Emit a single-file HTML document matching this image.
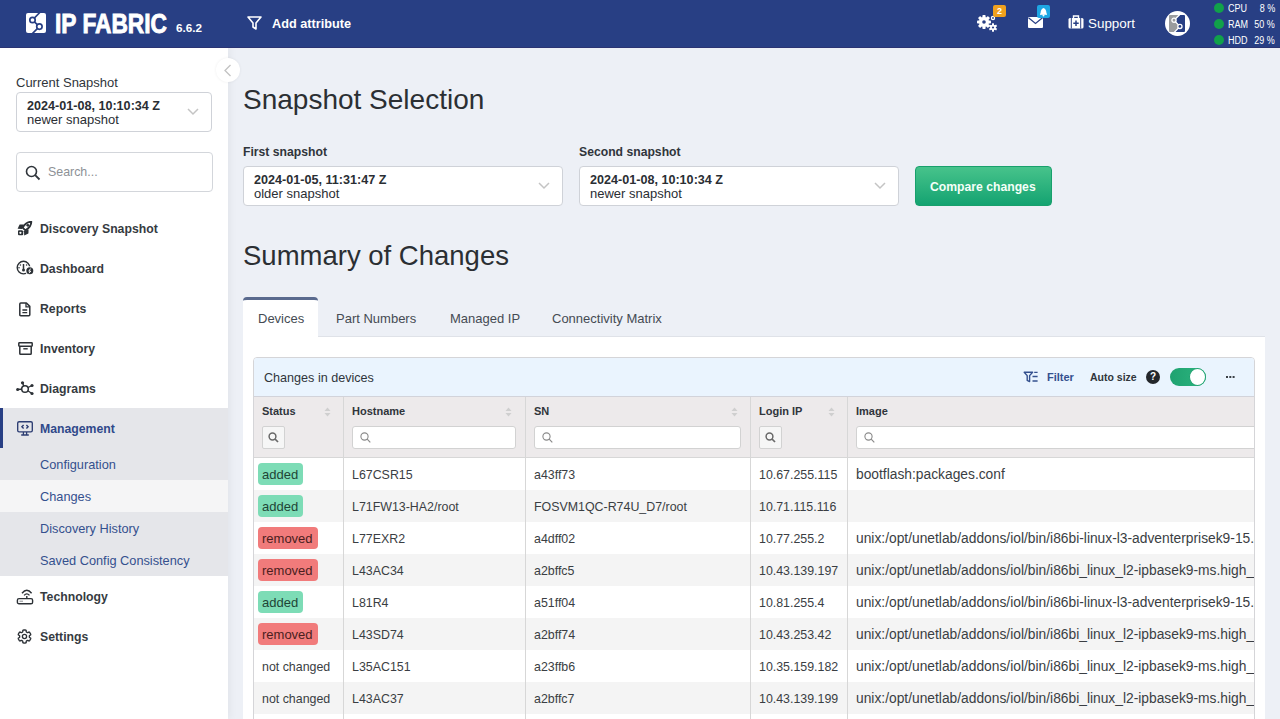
<!DOCTYPE html>
<html><head><meta charset="utf-8">
<style>
*{box-sizing:border-box;margin:0;padding:0}
html,body{width:1280px;height:719px;overflow:hidden}
body{font-family:"Liberation Sans",sans-serif;background:#edf0f6;color:#2f3337;position:relative}
.abs{position:absolute}
svg{display:block}
.nw{white-space:nowrap}
#hdr{left:0;top:0;width:1280px;height:48px;background:#283f84;border-bottom:1px solid #2b3473;z-index:5}
#side{left:0;top:47px;width:228px;height:672px;background:#fff;box-shadow:3px 0 7px rgba(0,0,0,0.045)}
.navi{position:absolute;left:0;width:228px;height:40px}
.navi .t{position:absolute;left:40px;top:13.5px;font-size:12.25px;font-weight:bold;color:#363b41;white-space:nowrap}
.navi svg{position:absolute;left:16px;top:12px}
.sub{position:absolute;left:0;width:228px;height:32px;background:#e5e6ea}
.sub .t{position:absolute;left:40px;top:9px;font-size:12.75px;color:#34508e;white-space:nowrap}
.sel{position:absolute;background:#fff;border:1px solid #cfd2d8;border-radius:4px}
.sel .d{position:absolute;left:10px;top:6px;font-size:12.6px;font-weight:bold;color:#2a2e33;white-space:nowrap}
.sel .n{position:absolute;left:10px;top:19px;font-size:13px;color:#2a2e33;white-space:nowrap}
.sel svg{position:absolute;right:12px;top:15px}
.lbl{position:absolute;font-size:12.2px;font-weight:bold;color:#30353b;white-space:nowrap}
.h1{position:absolute;font-size:28px;color:#2b2f33;white-space:nowrap}
.tab{position:absolute;top:297px;height:40px;font-size:13px;color:#454b53;white-space:nowrap}
.col{position:absolute;top:0;height:100%;border-right:1px solid #d7d7d7}
.th{position:absolute;top:8px;font-size:11px;font-weight:bold;color:#30353b}
.sb{position:absolute;top:29px;width:23px;height:23px;background:#f6f6f6;border:1px solid #d2d2d2;border-radius:2px}
.inp{position:absolute;top:29px;height:23px;background:#fff;border:1px solid #d2d2d2;border-radius:3px}
.row{position:absolute;left:0;width:1001px;height:32px}
.row.g{background:#f4f4f4}
.cell{position:absolute;top:10px;font-size:12.4px;color:#3a3e43;white-space:nowrap}
.bdg{position:absolute;left:4px;top:5px;height:22px;border-radius:4px;font-size:13px;padding:4px 0 0 4px;white-space:nowrap}
.add{background:#7ddcb6;color:#1f4536;width:45px}
.rem{background:#f17b7b;color:#4a1e1e;width:60px}
</style></head><body>

<!-- HEADER -->
<div id="hdr" class="abs">
  <svg class="abs" style="left:26px;top:13px" width="20" height="20" viewBox="0 0 20 20">
    <rect x="0" y="0" width="20" height="20" rx="2" fill="#fff"/>
    <path d="M13.8 -0.5 L6.5 7 L13.4 13.6 L6.4 20.5" fill="none" stroke="#283f84" stroke-width="1.7"/>
    <circle cx="6.5" cy="7" r="2.7" fill="#fff" stroke="#283f84" stroke-width="1.7"/>
    <circle cx="13.4" cy="13.6" r="2.7" fill="#fff" stroke="#283f84" stroke-width="1.7"/>
  </svg>
  <div class="abs nw" style="left:55px;top:8px;font-size:27.4px;font-weight:bold;color:#fff;transform-origin:0 0;transform:scaleX(0.83);-webkit-text-stroke:0.9px #fff;letter-spacing:0px">IP FABRIC</div>
  <div class="abs nw" style="left:176px;top:21px;font-size:11.7px;font-weight:bold;color:#fff">6.6.2</div>
  <svg class="abs" style="left:247px;top:16px" width="15" height="14" viewBox="0 0 15 14"><path d="M1 1 H14 L9 7 V13 L6 11 V7 Z" fill="none" stroke="#fff" stroke-width="1.6" stroke-linejoin="round"/></svg>
  <div class="abs nw" style="left:272px;top:16.5px;font-size:12.7px;font-weight:bold;color:#fff">Add attribute</div>
  <!-- gears -->
  <svg class="abs" style="left:977px;top:14px" width="21" height="18" viewBox="0 0 21 18">
    <g fill="#fff">
      <circle cx="7" cy="8" r="5"/>
      <g transform="translate(7 8)">
        <rect x="-1.6" y="-7" width="3.2" height="14" rx="0.8"/>
        <rect x="-1.6" y="-7" width="3.2" height="14" rx="0.8" transform="rotate(45)"/>
        <rect x="-1.6" y="-7" width="3.2" height="14" rx="0.8" transform="rotate(90)"/>
        <rect x="-1.6" y="-7" width="3.2" height="14" rx="0.8" transform="rotate(135)"/>
      </g>
      <circle cx="16" cy="13.5" r="2.8"/>
      <g transform="translate(16 13.5)">
        <rect x="-1" y="-4.2" width="2" height="8.4"/>
        <rect x="-1" y="-4.2" width="2" height="8.4" transform="rotate(60)"/>
        <rect x="-1" y="-4.2" width="2" height="8.4" transform="rotate(120)"/>
      </g>
      <circle cx="16" cy="4" r="2.2"/>
    </g>
    <circle cx="7" cy="8" r="1.8" fill="#283f84"/>
    <circle cx="16" cy="13.5" r="1.1" fill="#283f84"/>
    <circle cx="16" cy="4" r="0.9" fill="#283f84"/>
  </svg>
  <div class="abs" style="left:993px;top:5px;width:13px;height:12px;background:#f0a11e;border-radius:2px;color:#fff;font-size:9px;font-weight:bold;text-align:center;line-height:12px">2</div>
  <!-- mail -->
  <svg class="abs" style="left:1028px;top:17px" width="15" height="11" viewBox="0 0 15 11"><rect x="0" y="0" width="15" height="11" rx="1" fill="#fff"/><path d="M0.5 0.8 L7.5 6.5 L14.5 0.8" fill="none" stroke="#283f84" stroke-width="1.2"/></svg>
  <div class="abs" style="left:1037px;top:5px;width:13px;height:13px;background:#1ea7e4;border-radius:2px">
    <svg width="13" height="13" viewBox="0 0 13 13"><path d="M3.5 9 Q3.5 4 6.5 3 Q9.5 4 9.5 9 Z" fill="#fff"/><rect x="3" y="8.6" width="7" height="1.2" fill="#fff"/><circle cx="6.5" cy="10.6" r="1" fill="#fff"/></svg>
  </div>
  <!-- support -->
  <svg class="abs" style="left:1068px;top:15px" width="16" height="14" viewBox="0 0 16 14"><path d="M5.5 3 V1 H10.5 V3" fill="none" stroke="#fff" stroke-width="1.4"/><rect x="0.5" y="3" width="15" height="10.5" rx="1.5" fill="#fff"/><rect x="2.8" y="3" width="1" height="10.5" fill="#283f84"/><rect x="12.2" y="3" width="1" height="10.5" fill="#283f84"/><path d="M8 5.5 V11 M5.3 8.2 H10.7" stroke="#283f84" stroke-width="1.5"/></svg>
  <div class="abs nw" style="left:1088px;top:16px;font-size:13.4px;color:#fff">Support</div>
  <!-- avatar -->
  <div class="abs" style="left:1165px;top:11px;width:25px;height:25px;border-radius:50%;background:#fff"></div>
  <svg class="abs" style="left:1169px;top:15px" width="16" height="17" viewBox="0 0 16 17">
    <path d="M1 0 H10.8 L5 5.3 L10.9 11.4 L5.2 17 H1 Q0 17 0 16 V1 Q0 0 1 0 Z" fill="#9a9c9e"/>
    <path d="M10.8 0 H15 Q16 0 16 1 V16 Q16 17 15 17 H5.2 L10.9 11.4 L5 5.3 Z" fill="#283f84"/>
    <path d="M10.8 -0.5 L5 5.3 L10.9 11.4 L5.2 17.5" fill="none" stroke="#fff" stroke-width="1.3"/>
    <circle cx="5" cy="5.3" r="2.1" fill="#9a9c9e" stroke="#fff" stroke-width="1.3"/>
    <circle cx="10.9" cy="11.4" r="2.1" fill="#283f84" stroke="#fff" stroke-width="1.3"/>
  </svg>
  <!-- status -->
  <div class="abs" style="left:1214px;top:3px;width:10px;height:10px;border-radius:50%;background:#11a14a"></div>
  <div class="abs" style="left:1214px;top:19px;width:10px;height:10px;border-radius:50%;background:#11a14a"></div>
  <div class="abs" style="left:1214px;top:35px;width:10px;height:10px;border-radius:50%;background:#11a14a"></div>
  <div class="abs nw" style="left:1228px;top:3px;font-size:10px;color:#fff;line-height:12px;transform:scaleX(0.9);transform-origin:0 0">CPU</div>
  <div class="abs nw" style="left:1228px;top:19px;font-size:10px;color:#fff;line-height:12px;transform:scaleX(0.9);transform-origin:0 0">RAM</div>
  <div class="abs nw" style="left:1228px;top:35px;font-size:10px;color:#fff;line-height:12px;transform:scaleX(0.9);transform-origin:0 0">HDD</div>
  <div class="abs nw" style="right:5px;top:3px;font-size:10px;color:#fff;line-height:12px;text-align:right;transform:scaleX(0.9);transform-origin:100% 0">8 %</div>
  <div class="abs nw" style="right:5px;top:19px;font-size:10px;color:#fff;line-height:12px;text-align:right;transform:scaleX(0.9);transform-origin:100% 0">50 %</div>
  <div class="abs nw" style="right:5px;top:35px;font-size:10px;color:#fff;line-height:12px;text-align:right;transform:scaleX(0.9);transform-origin:100% 0">29 %</div>
</div>


<!-- SIDEBAR -->
<div id="side" class="abs">
  <div class="abs nw" style="left:16px;top:28px;font-size:13px;color:#30353b">Current Snapshot</div>
  <div class="sel" style="left:16px;top:45px;width:196px;height:40px">
    <div class="d">2024-01-08, 10:10:34 Z</div>
    <div class="n">newer snapshot</div>
    <svg width="12" height="8" viewBox="0 0 12 8"><path d="M1 1 L6 6 L11 1" fill="none" stroke="#c4c4c4" stroke-width="1.5"/></svg>
  </div>
  <div class="sel" style="left:16px;top:105px;width:197px;height:40px;border-color:#d3d6db">
    <svg style="left:8px;top:12px;right:auto" width="16" height="16" viewBox="0 0 16 16"><circle cx="6.5" cy="6.5" r="5" fill="none" stroke="#30353b" stroke-width="1.6"/><path d="M10.2 10.2 L14.5 14.5" stroke="#30353b" stroke-width="1.8"/></svg>
    <div class="abs nw" style="left:31px;top:12px;font-size:12.4px;color:#8d9196">Search...</div>
  </div>
  <!-- nav items: side top=47 -->
  <div class="navi" style="top:161px"><svg style="left:17px;top:13px" width="16" height="15" viewBox="0 0 16 15"><path d="M14.3 0.8 C10.5 0.8 7.6 3.2 5.6 6.6 L8.4 9.4 C11.8 7.4 14.3 4.6 14.3 0.8 Z" fill="#fff" stroke="#2c3136" stroke-width="1.9" stroke-linejoin="round"/><circle cx="10.8" cy="4.3" r="1.4" fill="#2c3136"/><path d="M6.6 3.4 L2.6 3.6 L0.6 7.8 L5 8 Z" fill="#2c3136"/><path d="M11.6 8.4 L11.4 12.4 L7.2 14.4 L7 10 Z" fill="#2c3136"/><path d="M1.6 9.2 H5.2 L6.2 10.2 V13.2 Q6.2 14.2 5.2 14.2 H2 Q1 14.2 1 13.2 V10 Z" fill="#2c3136"/><circle cx="3.4" cy="11.8" r="1.1" fill="#fff"/></svg><span class="t">Discovery Snapshot</span></div>
  <div class="navi" style="top:201px"><svg width="18" height="16" viewBox="0 0 18 16"><circle cx="7.5" cy="7.6" r="6.3" fill="none" stroke="#2c3136" stroke-width="1.4"/><path d="M7.5 4 V9" stroke="#2c3136" stroke-width="1.5"/><circle cx="7.5" cy="10" r="1.5" fill="#2c3136"/><circle cx="4.4" cy="5" r="0.8" fill="#2c3136"/><circle cx="10.6" cy="5" r="0.8" fill="#2c3136"/><circle cx="3" cy="7.8" r="0.8" fill="#2c3136"/><circle cx="13.8" cy="10.8" r="4.6" fill="#fff"/><circle cx="13.8" cy="10.8" r="3.5" fill="#2c3136"/><path d="M14.6 8.6 L12.8 11.2 H14.8 L13 13.2" stroke="#fff" stroke-width="1" fill="none"/></svg><span class="t">Dashboard</span></div>
  <div class="navi" style="top:241px"><svg style="left:19px;top:14px" width="12" height="15" viewBox="0 0 12 15"><path d="M1.8 1 H7.4 L10.8 4.4 V12.8 Q10.8 13.8 9.8 13.8 H1.8 Q0.8 13.8 0.8 12.8 V2 Q0.8 1 1.8 1 Z" fill="none" stroke="#2c3136" stroke-width="1.5" stroke-linejoin="round"/><path d="M7 1 V4.8 H10.8" fill="none" stroke="#2c3136" stroke-width="1.3"/><path d="M3.4 8 H8.2 M3.4 10.6 H8.2" stroke="#2c3136" stroke-width="1.4"/></svg><span class="t">Reports</span></div>
  <div class="navi" style="top:281px"><svg style="left:17.5px;top:14px" width="15" height="13" viewBox="0 0 15 13"><rect x="0.8" y="0.8" width="13.4" height="3.4" rx="0.6" fill="none" stroke="#2c3136" stroke-width="1.5"/><path d="M1.8 4.2 V11.4 Q1.8 12.2 2.6 12.2 H12.4 Q13.2 12.2 13.2 11.4 V4.2" fill="none" stroke="#2c3136" stroke-width="1.5"/><path d="M5.3 6.8 H9.7" stroke="#2c3136" stroke-width="1.4"/></svg><span class="t">Inventory</span></div>
  <div class="navi" style="top:321px"><svg style="left:16px;top:13px" width="18" height="15" viewBox="0 0 18 15"><path d="M9 8 L6.5 1.8 M9 8 L16 4.5 M9 8 L16 12.5 M9 8 L1 8.5" stroke="#2c3136" stroke-width="1.3"/><circle cx="9" cy="8" r="3.3" fill="#fff" stroke="#2c3136" stroke-width="1.5"/><circle cx="6.5" cy="1.8" r="1.6" fill="#2c3136"/><circle cx="16" cy="4.5" r="1.6" fill="#2c3136"/><circle cx="16" cy="12.5" r="1.6" fill="#2c3136"/><circle cx="1.6" cy="8.5" r="1.5" fill="#2c3136"/></svg><span class="t">Diagrams</span></div>
  <div class="navi" style="top:361px;background:#e5e6ea"><div class="abs" style="left:0;top:0;width:3px;height:40px;background:#283f84"></div><svg style="left:17px;top:13px" width="16" height="15" viewBox="0 0 16 15"><rect x="0.7" y="0.7" width="14.6" height="10.2" rx="1.4" fill="none" stroke="#2c3d72" stroke-width="1.35"/><path d="M6.4 10.9 V13.6 M9.6 10.9 V13.6 M4.2 14 H11.8" fill="none" stroke="#2c3d72" stroke-width="1.3"/><path d="M6.6 4 L4.9 5.8 L6.6 7.6 M9.4 4 L11.1 5.8 L9.4 7.6" fill="none" stroke="#2c3d72" stroke-width="1.4"/></svg><span class="t" style="color:#30498a">Management</span></div>
  <div class="sub" style="top:401px"><span class="t">Configuration</span></div>
  <div class="sub" style="top:433px;background:#f5f5f6"><span class="t">Changes</span></div>
  <div class="sub" style="top:465px"><span class="t">Discovery History</span></div>
  <div class="sub" style="top:497px"><span class="t">Saved Config Consistency</span></div>
  <div class="navi" style="top:529px"><svg style="left:16px;top:13px" width="18" height="16" viewBox="0 0 18 16"><path d="M6 4.2 Q10.8 -1.6 15.6 4.2 M8.1 6.4 Q10.8 3.4 13.5 6.4" fill="none" stroke="#2c3136" stroke-width="1.4"/><path d="M10.8 7 V9.5" stroke="#2c3136" stroke-width="1.4"/><rect x="1.4" y="9.6" width="15.2" height="5.2" rx="1.6" fill="none" stroke="#2c3136" stroke-width="1.4"/><path d="M3.5 12.2 H7" stroke="#8a8d91" stroke-width="1"/></svg><span class="t">Technology</span></div>
  <div class="navi" style="top:569px"><svg style="left:17px;top:13px" width="15" height="15" viewBox="0 0 15 15"><path d="M7.50 0.95 L7.73 0.95 L7.96 0.97 L8.18 0.99 L8.41 1.01 L8.64 1.05 L8.86 1.11 L9.06 1.24 L9.19 1.59 L9.20 2.27 L9.23 2.75 L9.34 2.95 L9.48 3.05 L9.63 3.13 L9.78 3.21 L9.93 3.30 L10.07 3.38 L10.22 3.47 L10.36 3.56 L10.52 3.63 L10.75 3.63 L11.18 3.41 L11.77 3.08 L12.14 3.02 L12.35 3.13 L12.51 3.29 L12.66 3.47 L12.80 3.65 L12.93 3.84 L13.06 4.03 L13.17 4.22 L13.28 4.42 L13.39 4.63 L13.48 4.84 L13.57 5.05 L13.65 5.26 L13.71 5.48 L13.71 5.72 L13.46 6.01 L12.88 6.36 L12.48 6.62 L12.36 6.82 L12.34 6.99 L12.35 7.16 L12.35 7.33 L12.35 7.50 L12.35 7.67 L12.35 7.84 L12.34 8.01 L12.36 8.18 L12.48 8.38 L12.88 8.64 L13.46 8.99 L13.71 9.28 L13.71 9.52 L13.65 9.74 L13.57 9.95 L13.48 10.16 L13.39 10.37 L13.28 10.58 L13.17 10.78 L13.06 10.97 L12.93 11.16 L12.80 11.35 L12.66 11.53 L12.51 11.71 L12.35 11.87 L12.14 11.98 L11.77 11.92 L11.18 11.59 L10.75 11.37 L10.52 11.37 L10.36 11.44 L10.22 11.53 L10.07 11.62 L9.93 11.70 L9.78 11.79 L9.63 11.87 L9.48 11.95 L9.34 12.05 L9.23 12.25 L9.20 12.73 L9.19 13.41 L9.06 13.76 L8.86 13.89 L8.64 13.95 L8.41 13.99 L8.18 14.01 L7.96 14.03 L7.73 14.05 L7.50 14.05 L7.27 14.05 L7.04 14.03 L6.82 14.01 L6.59 13.99 L6.36 13.95 L6.14 13.89 L5.94 13.76 L5.81 13.41 L5.80 12.73 L5.77 12.25 L5.66 12.05 L5.52 11.95 L5.37 11.87 L5.22 11.79 L5.07 11.70 L4.93 11.62 L4.78 11.53 L4.64 11.44 L4.48 11.37 L4.25 11.37 L3.82 11.59 L3.23 11.92 L2.86 11.98 L2.65 11.87 L2.49 11.71 L2.34 11.53 L2.20 11.35 L2.07 11.16 L1.94 10.97 L1.83 10.78 L1.72 10.58 L1.61 10.37 L1.52 10.16 L1.43 9.95 L1.35 9.74 L1.29 9.52 L1.29 9.28 L1.54 8.99 L2.12 8.64 L2.52 8.38 L2.64 8.18 L2.66 8.01 L2.65 7.84 L2.65 7.67 L2.65 7.50 L2.65 7.33 L2.65 7.16 L2.66 6.99 L2.64 6.82 L2.52 6.62 L2.12 6.36 L1.54 6.01 L1.29 5.72 L1.29 5.48 L1.35 5.26 L1.43 5.05 L1.52 4.84 L1.61 4.63 L1.72 4.42 L1.83 4.22 L1.94 4.03 L2.07 3.84 L2.20 3.65 L2.34 3.47 L2.49 3.29 L2.65 3.13 L2.86 3.02 L3.23 3.08 L3.82 3.41 L4.25 3.63 L4.48 3.63 L4.64 3.56 L4.78 3.47 L4.93 3.38 L5.07 3.30 L5.22 3.21 L5.37 3.13 L5.52 3.05 L5.66 2.95 L5.77 2.75 L5.80 2.27 L5.81 1.59 L5.94 1.24 L6.14 1.11 L6.36 1.05 L6.59 1.01 L6.82 0.99 L7.04 0.97 L7.27 0.95 Z" fill="none" stroke="#2c3136" stroke-width="1.35" stroke-linejoin="round"/><circle cx="7.5" cy="7.5" r="2.1" fill="none" stroke="#2c3136" stroke-width="1.35"/></svg><span class="t">Settings</span></div>
</div>

<!-- MAIN -->
<div class="h1" style="left:243px;top:84px">Snapshot Selection</div>
<div class="lbl" style="left:243px;top:145px">First snapshot</div>
<div class="sel" style="left:243px;top:166px;width:320px;height:40px">
  <div class="d">2024-01-05, 11:31:47 Z</div>
  <div class="n">older snapshot</div>
  <svg width="12" height="8" viewBox="0 0 12 8"><path d="M1 1 L6 6 L11 1" fill="none" stroke="#c4c4c4" stroke-width="1.5"/></svg>
</div>
<div class="lbl" style="left:579px;top:145px">Second snapshot</div>
<div class="sel" style="left:579px;top:166px;width:320px;height:40px">
  <div class="d">2024-01-08, 10:10:34 Z</div>
  <div class="n">newer snapshot</div>
  <svg width="12" height="8" viewBox="0 0 12 8"><path d="M1 1 L6 6 L11 1" fill="none" stroke="#c4c4c4" stroke-width="1.5"/></svg>
</div>
<div class="abs" style="left:915px;top:166px;width:137px;height:40px;border-radius:4px;background:linear-gradient(#47c38b,#14a371);border:1px solid #18a06c"></div>
<div class="abs nw" style="left:930px;top:180px;font-size:12.2px;font-weight:bold;color:#f4fff8">Compare changes</div>

<div class="h1" style="left:243px;top:240px;font-size:27.5px">Summary of Changes</div>

<!-- tabs -->
<div class="abs" style="left:243px;top:336px;width:1022px;height:1px;background:#dfe2e8"></div>
<div class="abs" style="left:243px;top:337px;width:1022px;height:382px;background:#fff"></div>
<div class="abs" style="left:243px;top:297px;width:75px;height:41px;background:#fff;border-top:3px solid #5a6a8e;border-radius:4px 4px 0 0"></div>
<div class="tab" style="left:258px"><span class="abs" style="top:14px">Devices</span></div>
<div class="tab" style="left:336px"><span class="abs" style="top:14px">Part Numbers</span></div>
<div class="tab" style="left:450px"><span class="abs" style="top:14px">Managed IP</span></div>
<div class="tab" style="left:552px"><span class="abs" style="top:14px">Connectivity Matrix</span></div>

<!-- card -->
<div class="abs" style="left:253px;top:357px;width:1002px;height:370px;border:1px solid #d5d5d8;border-radius:4px;overflow:hidden;background:#fff">
  <div class="abs" style="left:0;top:0;width:1001px;height:39px;background:#eaf4fe;border-bottom:1px solid #d2d3da"></div>
  <div class="abs nw" style="left:10px;top:13px;font-size:12.6px;color:#30353b">Changes in devices</div>
  <svg class="abs" style="left:769px;top:13px" width="16" height="12" viewBox="0 0 16 12"><path d="M1.2 1.2 H9.6 L6.6 4.6 V10.6 L4.2 9.4 V4.6 Z" fill="none" stroke="#34508e" stroke-width="1.4" stroke-linejoin="round"/><path d="M11.2 1.3 H14.6 M9.5 5.5 H14.6 M9.5 10 H14.6" stroke="#34508e" stroke-width="1.3"/></svg>
  <div class="abs nw" style="left:793px;top:13.4px;font-size:11px;font-weight:bold;color:#34508e">Filter</div>
  <div class="abs nw" style="left:836px;top:13.4px;font-size:10.5px;font-weight:bold;color:#30353b">Auto size</div>
  <div class="abs" style="left:892px;top:12px;width:14px;height:14px;border-radius:50%;background:#24272b;color:#fff;font-size:10px;font-weight:bold;text-align:center;line-height:14px">?</div>
  <div class="abs" style="left:916px;top:10px;width:36px;height:18px;border-radius:9px;background:linear-gradient(90deg,#1fa270,#2db57f)"></div>
  <div class="abs" style="left:935px;top:10px;width:17px;height:18px;border-radius:50%;background:#fff;border:1px solid #1fa270"></div>
  <svg class="abs" style="left:972px;top:18px" width="9" height="2" viewBox="0 0 9 2"><rect x="0" y="0" width="2" height="2" fill="#3a3f45"/><rect x="3.3" y="0" width="2" height="2" fill="#3a3f45"/><rect x="6.6" y="0" width="2" height="2" fill="#3a3f45"/></svg>

  <!-- table header -->
  <div class="abs" style="left:0;top:39px;width:1001px;height:61px;background:#edeaeb;border-bottom:1px solid #d7d7d7">
    <div class="col" style="left:0;width:90px"></div>
    <div class="col" style="left:90px;width:182px"></div>
    <div class="col" style="left:272px;width:225px"></div>
    <div class="col" style="left:497px;width:97px"></div>
    <div class="th" style="left:8px">Status</div>
    <div class="abs" style="left:70px;top:10px"><svg width="7" height="10" viewBox="0 0 7 10"><path d="M3.5 0.5 L6.5 4 H0.5 Z M3.5 9.5 L6.5 6 H0.5 Z" fill="#cfcfcf"/></svg></div>
    <div class="sb" style="left:8px"><div class="abs" style="left:5px;top:5px"><svg width="11" height="11" viewBox="0 0 11 11"><circle cx="4.5" cy="4.5" r="3.4" fill="none" stroke="#6a6a6a" stroke-width="1.5"/><path d="M7 7 L10 10" stroke="#6a6a6a" stroke-width="1.7"/></svg></div></div>
    <div class="th" style="left:98px">Hostname</div>
    <div class="abs" style="left:251px;top:10px"><svg width="7" height="10" viewBox="0 0 7 10"><path d="M3.5 0.5 L6.5 4 H0.5 Z M3.5 9.5 L6.5 6 H0.5 Z" fill="#cfcfcf"/></svg></div>
    <div class="inp" style="left:98px;width:164px"><div class="abs" style="left:7px;top:5px"><svg width="11" height="11" viewBox="0 0 11 11"><circle cx="4.5" cy="4.5" r="3.6" fill="none" stroke="#8a8a8a" stroke-width="1.1"/><path d="M7.2 7.2 L10.3 10.3" stroke="#8a8a8a" stroke-width="1.2"/></svg></div></div>
    <div class="th" style="left:280px">SN</div>
    <div class="abs" style="left:477px;top:10px"><svg width="7" height="10" viewBox="0 0 7 10"><path d="M3.5 0.5 L6.5 4 H0.5 Z M3.5 9.5 L6.5 6 H0.5 Z" fill="#cfcfcf"/></svg></div>
    <div class="inp" style="left:280px;width:207px"><div class="abs" style="left:7px;top:5px"><svg width="11" height="11" viewBox="0 0 11 11"><circle cx="4.5" cy="4.5" r="3.6" fill="none" stroke="#8a8a8a" stroke-width="1.1"/><path d="M7.2 7.2 L10.3 10.3" stroke="#8a8a8a" stroke-width="1.2"/></svg></div></div>
    <div class="th" style="left:505px">Login IP</div>
    <div class="abs" style="left:574px;top:10px"><svg width="7" height="10" viewBox="0 0 7 10"><path d="M3.5 0.5 L6.5 4 H0.5 Z M3.5 9.5 L6.5 6 H0.5 Z" fill="#cfcfcf"/></svg></div>
    <div class="sb" style="left:505px"><div class="abs" style="left:5px;top:5px"><svg width="11" height="11" viewBox="0 0 11 11"><circle cx="4.5" cy="4.5" r="3.4" fill="none" stroke="#6a6a6a" stroke-width="1.5"/><path d="M7 7 L10 10" stroke="#6a6a6a" stroke-width="1.7"/></svg></div></div>
    <div class="th" style="left:602px">Image</div>
    <div class="inp" style="left:602px;width:420px"><div class="abs" style="left:7px;top:5px"><svg width="11" height="11" viewBox="0 0 11 11"><circle cx="4.5" cy="4.5" r="3.6" fill="none" stroke="#8a8a8a" stroke-width="1.1"/><path d="M7.2 7.2 L10.3 10.3" stroke="#8a8a8a" stroke-width="1.2"/></svg></div></div>
  </div>
  <!-- rows -->
  <div class="abs" style="left:0;top:100px;width:1001px;height:270px">
    <div class="row" style="top:0px">
      <div class="col" style="left:0;width:90px"></div><div class="col" style="left:90px;width:182px"></div><div class="col" style="left:272px;width:225px"></div><div class="col" style="left:497px;width:97px"></div>
      <div class="bdg add">added</div><div class="cell" style="left:98px">L67CSR15</div><div class="cell" style="left:280px">a43ff73</div><div class="cell" style="left:505px">10.67.255.115</div><div class="cell" style="left:602px;font-size:13.8px;top:9px">bootflash:packages.conf</div>
    </div>
    <div class="row g" style="top:32px">
      <div class="col" style="left:0;width:90px"></div><div class="col" style="left:90px;width:182px"></div><div class="col" style="left:272px;width:225px"></div><div class="col" style="left:497px;width:97px"></div>
      <div class="bdg add">added</div><div class="cell" style="left:98px">L71FW13-HA2/root</div><div class="cell" style="left:280px">FOSVM1QC-R74U_D7/root</div><div class="cell" style="left:505px">10.71.115.116</div><div class="cell" style="left:602px;font-size:13.8px;top:9px"></div>
    </div>
    <div class="row" style="top:64px">
      <div class="col" style="left:0;width:90px"></div><div class="col" style="left:90px;width:182px"></div><div class="col" style="left:272px;width:225px"></div><div class="col" style="left:497px;width:97px"></div>
      <div class="bdg rem">removed</div><div class="cell" style="left:98px">L77EXR2</div><div class="cell" style="left:280px">a4dff02</div><div class="cell" style="left:505px">10.77.255.2</div><div class="cell" style="left:602px;font-size:13.8px;top:9px">unix:/opt/unetlab/addons/iol/bin/i86bi-linux-l3-adventerprisek9-15.4.1T.bin</div>
    </div>
    <div class="row g" style="top:96px">
      <div class="col" style="left:0;width:90px"></div><div class="col" style="left:90px;width:182px"></div><div class="col" style="left:272px;width:225px"></div><div class="col" style="left:497px;width:97px"></div>
      <div class="bdg rem">removed</div><div class="cell" style="left:98px">L43AC34</div><div class="cell" style="left:280px">a2bffc5</div><div class="cell" style="left:505px">10.43.139.197</div><div class="cell" style="left:602px;font-size:13.8px;top:9px">unix:/opt/unetlab/addons/iol/bin/i86bi_linux_l2-ipbasek9-ms.high_iron.bin</div>
    </div>
    <div class="row" style="top:128px">
      <div class="col" style="left:0;width:90px"></div><div class="col" style="left:90px;width:182px"></div><div class="col" style="left:272px;width:225px"></div><div class="col" style="left:497px;width:97px"></div>
      <div class="bdg add">added</div><div class="cell" style="left:98px">L81R4</div><div class="cell" style="left:280px">a51ff04</div><div class="cell" style="left:505px">10.81.255.4</div><div class="cell" style="left:602px;font-size:13.8px;top:9px">unix:/opt/unetlab/addons/iol/bin/i86bi-linux-l3-adventerprisek9-15.4.1T.bin</div>
    </div>
    <div class="row g" style="top:160px">
      <div class="col" style="left:0;width:90px"></div><div class="col" style="left:90px;width:182px"></div><div class="col" style="left:272px;width:225px"></div><div class="col" style="left:497px;width:97px"></div>
      <div class="bdg rem">removed</div><div class="cell" style="left:98px">L43SD74</div><div class="cell" style="left:280px">a2bff74</div><div class="cell" style="left:505px">10.43.253.42</div><div class="cell" style="left:602px;font-size:13.8px;top:9px">unix:/opt/unetlab/addons/iol/bin/i86bi_linux_l2-ipbasek9-ms.high_iron.bin</div>
    </div>
    <div class="row" style="top:192px">
      <div class="col" style="left:0;width:90px"></div><div class="col" style="left:90px;width:182px"></div><div class="col" style="left:272px;width:225px"></div><div class="col" style="left:497px;width:97px"></div>
      <div class="cell" style="left:8px">not changed</div><div class="cell" style="left:98px">L35AC151</div><div class="cell" style="left:280px">a23ffb6</div><div class="cell" style="left:505px">10.35.159.182</div><div class="cell" style="left:602px;font-size:13.8px;top:9px">unix:/opt/unetlab/addons/iol/bin/i86bi_linux_l2-ipbasek9-ms.high_iron.bin</div>
    </div>
    <div class="row g" style="top:224px">
      <div class="col" style="left:0;width:90px"></div><div class="col" style="left:90px;width:182px"></div><div class="col" style="left:272px;width:225px"></div><div class="col" style="left:497px;width:97px"></div>
      <div class="cell" style="left:8px">not changed</div><div class="cell" style="left:98px">L43AC37</div><div class="cell" style="left:280px">a2bffc7</div><div class="cell" style="left:505px">10.43.139.199</div><div class="cell" style="left:602px;font-size:13.8px;top:9px">unix:/opt/unetlab/addons/iol/bin/i86bi_linux_l2-ipbasek9-ms.high_iron.bin</div>
    </div>
    <div class="row" style="top:256px">
      <div class="col" style="left:0;width:90px"></div><div class="col" style="left:90px;width:182px"></div><div class="col" style="left:272px;width:225px"></div><div class="col" style="left:497px;width:97px"></div>
      <div class="cell" style="left:8px"></div><div class="cell" style="left:98px"></div><div class="cell" style="left:280px"></div><div class="cell" style="left:505px"></div><div class="cell" style="left:602px;font-size:13.8px;top:9px"></div>
    </div>
  </div>
</div>

<!-- collapse btn -->
<div class="abs" style="left:215.5px;top:58px;width:24px;height:24px;border-radius:50%;background:#fff;box-shadow:0 0 3px rgba(0,0,0,0.07)"></div>
<svg class="abs" style="left:223px;top:64px" width="9" height="13" viewBox="0 0 9 13"><path d="M7.5 1 L2 6.5 L7.5 12" fill="none" stroke="#c2c2c2" stroke-width="1.3"/></svg>
</body></html>
